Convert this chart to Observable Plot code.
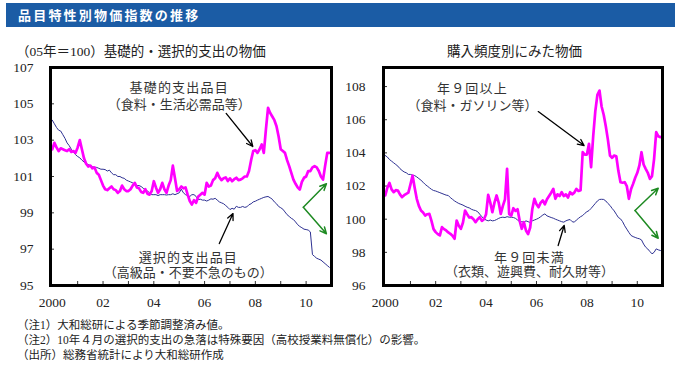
<!DOCTYPE html>
<html><head><meta charset="utf-8">
<script src="https://cdn.jsdelivr.net/npm/d3@7"></script>
<script src="https://cdn.jsdelivr.net/npm/@observablehq/plot@0.6"></script>
<style>
body{margin:0;width:680px;height:367px;background:#fff;position:relative;overflow:hidden;font-family:"Liberation Serif","Noto Sans CJK JP",serif;color:#222}
#bar{position:absolute;left:6px;top:3px;width:669px;height:24px;background:#1b5ca5;color:#fff;font-family:"Noto Sans CJK JP";font-weight:bold;font-size:13px;line-height:24px;letter-spacing:2.2px;padding-left:12px;box-sizing:border-box}
.ptitle{position:absolute;top:44px;font-size:13.5px;line-height:16px;white-space:nowrap}
#left,#right{position:absolute;top:58px}
#left{left:0}#right{left:340px}
#notes{position:absolute;left:17px;top:318px;font-size:11.5px;line-height:15px;white-space:nowrap}
</style></head><body>
<div id="bar">品目特性別物価指数の推移</div>
<div class="ptitle" style="left:16px">（05年＝100）基礎的・選択的支出の物価</div>
<div class="ptitle" style="left:447px">購入頻度別にみた物価</div>
<div id="left"></div>
<div id="right"></div>
<div id="notes">（注1）大和総研による季節調整済み値。<br>（注2）10年４月の選択的支出の急落は特殊要因（高校授業料無償化）の影響。<br>（出所）総務省統計により大和総研作成</div>
<script>
// Monthly, Jan 2000 - Dec 2010
const startYear = 2000;
const basicExp = [
102.5,102.85,102.6,102.4,102.55,102.5,102.45,102.4,102.5,102.35,102.4,102.3,
102.6,103.0,102.5,102.0,101.7,101.55,101.6,101.45,101.5,101.2,101.1,100.8,
100.5,100.3,100.25,100.35,100.45,100.3,100.25,100.1,100.2,100.5,100.3,100.2,
100.2,100.3,100.5,100.65,100.4,100.35,100.15,100.1,100.3,100.05,100.0,100.2,
100.74,100.4,100.1,100.3,100.65,100.3,100.1,100.5,100.8,101.6,100.9,100.2,
100.3,100.45,100.35,100.4,100.0,99.65,99.46,99.7,99.55,99.9,100.0,100.1,
100.0,100.65,100.45,100.5,100.8,100.9,101.2,100.95,100.8,100.9,100.95,100.75,
100.9,100.74,100.85,100.93,100.8,100.83,100.9,101.0,101.0,101.3,101.9,102.4,
102.45,102.3,102.5,102.76,102.3,103.6,104.78,104.5,104.3,104.1,103.77,103.2,
102.5,102.4,102.3,101.9,101.57,101.2,100.83,100.6,100.4,100.28,100.7,100.93,
101.0,101.3,101.3,101.5,101.57,101.5,101.3,101.0,100.83,101.6,102.3,102.3];
const selectiveExp = [
104.1,103.9,103.7,103.55,103.5,103.3,103.1,102.85,102.7,102.5,102.35,102.2,
102.1,102.03,101.9,101.8,101.7,101.66,101.6,101.55,101.5,101.5,101.45,101.4,
101.4,101.38,101.3,101.35,101.2,101.1,101.1,101.0,101.0,100.93,100.9,100.8,
100.75,100.7,100.65,100.56,100.5,100.5,100.45,100.35,100.28,100.2,100.1,100.0,
100.0,100.0,99.95,100.0,100.0,100.0,99.98,100.0,100.0,100.05,100.0,100.05,
100.1,100.3,100.1,100.0,99.95,99.9,100.0,100.0,99.9,99.73,99.75,99.7,
99.7,99.65,99.7,99.77,99.75,99.8,99.7,99.6,99.55,99.5,99.4,99.3,
99.18,99.25,99.2,99.36,99.3,99.3,99.35,99.3,99.33,99.45,99.5,99.6,
99.64,99.7,99.75,99.8,99.85,99.88,99.9,99.83,99.75,99.6,99.5,99.35,
99.28,99.2,99.05,98.9,98.8,98.7,98.63,98.5,98.35,98.25,98.18,98.1,
98.08,98.05,97.95,96.7,96.6,96.5,96.45,96.4,96.3,96.2,96.1,96.0];
const freqHigh = [
101.43,101.9,102.19,101.8,101.63,101.75,101.73,101.5,101.33,101.45,101.53,101.6,
102.1,102.63,101.9,101.23,100.8,100.52,100.4,100.22,100.3,100.32,99.9,99.4,
99.22,99.1,99.02,99.52,99.4,99.32,99.2,99.12,99.0,98.82,99.92,99.6,
99.42,99.8,100.52,100.3,100.1,100.12,100.0,99.82,100.0,100.12,99.9,100.0,
100.3,101.47,101.0,100.42,101.0,101.43,101.0,100.32,100.8,101.2,103.04,100.3,
100.22,100.66,100.5,100.6,99.9,99.42,99.82,99.32,99.1,99.5,100.6,101.23,
100.9,100.72,101.0,101.13,100.9,101.2,101.4,101.6,101.83,101.23,101.5,101.4,
101.63,101.4,101.5,101.3,101.63,101.5,101.6,101.83,101.7,101.75,104.04,103.9,
103.9,104.55,103.14,105.0,106.5,107.5,107.76,106.8,106.3,105.6,104.8,103.84,
103.7,103.84,103.8,102.9,102.23,102.2,102.23,102.0,101.23,101.8,102.13,102.5,
102.8,103.24,104.04,103.3,103.04,102.8,102.43,102.6,103.64,105.25,105.0,104.95];
const freqLow = [
103.84,103.75,103.6,103.5,103.4,103.3,103.2,103.05,102.94,102.85,102.8,102.7,
102.7,102.65,102.63,102.55,102.45,102.35,102.23,102.1,102.0,101.9,101.8,101.73,
101.7,101.65,101.6,101.55,101.5,101.45,101.43,101.3,101.2,101.1,101.02,100.95,
100.9,100.85,100.78,100.72,100.68,100.6,100.55,100.52,100.45,100.3,100.15,100.02,
99.95,99.9,99.95,99.9,99.92,99.98,100.05,100.1,100.12,100.1,100.15,100.12,
100.12,100.1,100.05,99.95,99.85,99.85,99.82,99.9,99.85,99.8,99.9,99.95,
100.0,100.06,100.15,100.25,100.32,100.2,100.15,100.1,100.06,100.0,99.95,99.9,
99.85,99.82,99.9,99.95,99.98,99.85,99.82,99.95,100.05,100.15,100.22,100.35,
100.45,100.52,100.65,100.8,100.95,101.1,101.19,101.2,101.19,101.1,100.95,100.83,
100.65,100.5,100.3,100.1,100.02,99.85,99.6,99.4,99.2,99.02,98.95,98.9,
98.85,98.82,98.75,98.5,98.31,98.2,98.05,97.91,98.0,98.21,98.15,98.11];

const xLabelYears = [2000, 2002, 2004, 2006, 2008, 2010];
const xTickYears = [2001, 2002, 2003, 2004, 2005, 2006, 2007, 2008, 2009, 2010];
const leftYTicks = [95, 97, 99, 101, 103, 105, 107];
const rightYTicks = [96, 98, 100, 102, 104, 106, 108];

// annotations: labels and arrows (in data coordinates)
const leftLabels = [
  {t: 2005.0, v: 105.9, text: "基礎的支出品目", first: true},
  {t: 2005.0, v: 104.95, text: "（食料・生活必需品等）"},
  {t: 2005.36, v: 96.55, text: "選択的支出品目", first: true},
  {t: 2005.36, v: 95.72, text: "（高級品・不要不急のもの）"}
];
const leftArrows = [
  {t1: 2006.85, v1: 104.47, t2: 2007.9, v2: 102.65},
  {t1: 2006.58, v1: 97.31, t2: 2007.12, v2: 98.96}
];
const leftGreen = [
  {t1: 2009.89, v1: 99.31, t2: 2010.8, v2: 100.6},
  {t1: 2009.89, v1: 99.31, t2: 2010.8, v2: 97.85}
];
const rightLabels = [
  {t: 2003.46, v: 107.86, text: "年９回以上", first: true},
  {t: 2003.46, v: 106.86, text: "（食料・ガソリン等）"},
  {t: 2005.72, v: 97.67, text: "年９回未満", first: true},
  {t: 2005.72, v: 96.8, text: "（衣類、遊興費、耐久財等）"}
];
const rightArrows = [
  {t1: 2006.07, v1: 106.49, t2: 2007.89, v2: 104.44},
  {t1: 2006.86, v1: 98.41, t2: 2007.1, v2: 99.62}
];
const rightGreen = [
  {t1: 2009.91, v1: 100.52, t2: 2010.83, v2: 101.87},
  {t1: 2009.91, v1: 100.52, t2: 2010.83, v2: 98.85}
];

const toRows = arr => arr.map((v, i) => ({t: startYear + i / 12, v}));
const fmtYear = d => d === 2000 ? "2000" : String(d).slice(2);
const FONT = '"Liberation Serif","Noto Sans CJK JP",serif';

function panel({el, marginLeft, marginRight, yDomain, yTicks, pad, series, labels, arrows, green}) {
  const svg = Plot.plot({
    width: 340, height: 255,
    marginLeft, marginRight, marginTop: 9, marginBottom: 28,
    x: {domain: [1999.93, 2011.0]},
    y: {domain: yDomain},
    style: {fontFamily: FONT, fontSize: "13.5px", color: "#222", background: "transparent", overflow: "visible"},
    marks: [
      Plot.axisX({ticks: xLabelYears, tickFormat: fmtYear, tickSize: 0, tickPadding: 12, label: null}),
      Plot.axisX({ticks: xTickYears, tickSize: -4, fill: "none", stroke: "#333", label: null}),
      Plot.axisY({ticks: yTicks, tickSize: 0, tickPadding: pad, label: null}),
      Plot.axisY({ticks: yTicks, tickSize: -4, fill: "none", stroke: "#333", label: null}),
      Plot.line(toRows(series[1]), {x: "t", y: "v", stroke: "#2e3192", strokeWidth: 1}),
      Plot.line(toRows(series[0]), {x: "t", y: "v", stroke: "#ff00ff", strokeWidth: 2.7}),
      Plot.arrow(arrows, {x1: "t1", y1: "v1", x2: "t2", y2: "v2", stroke: "#000", strokeWidth: 1.3, headLength: 8, headAngle: 50}),
      Plot.arrow(green, {x1: "t1", y1: "v1", x2: "t2", y2: "v2", stroke: "#1e8a22", strokeWidth: 1.5, headLength: 7, headAngle: 50}),
      Plot.text(labels, {x: "t", y: "v", text: "text", fill: "#333", fontSize: 13, fontFamily: FONT}),
      Plot.frame({stroke: "#000", strokeWidth: 3})
    ]
  });
  const firsts = new Set(labels.filter(d => d.first).map(d => d.text));
  svg.querySelectorAll("text").forEach(t => { if (firsts.has(t.textContent)) t.style.letterSpacing = "1.2px"; });
  document.getElementById(el).append(svg);
}

panel({el: "left", marginLeft: 50, marginRight: 9, yDomain: [95, 107], yTicks: leftYTicks, pad: 17,
  series: [basicExp, selectiveExp], labels: leftLabels, arrows: leftArrows, green: leftGreen});
panel({el: "right", marginLeft: 43, marginRight: 18, yDomain: [96, 109.15], yTicks: rightYTicks, pad: 18,
  series: [freqHigh, freqLow], labels: rightLabels, arrows: rightArrows, green: rightGreen});
</script>
</body></html>
